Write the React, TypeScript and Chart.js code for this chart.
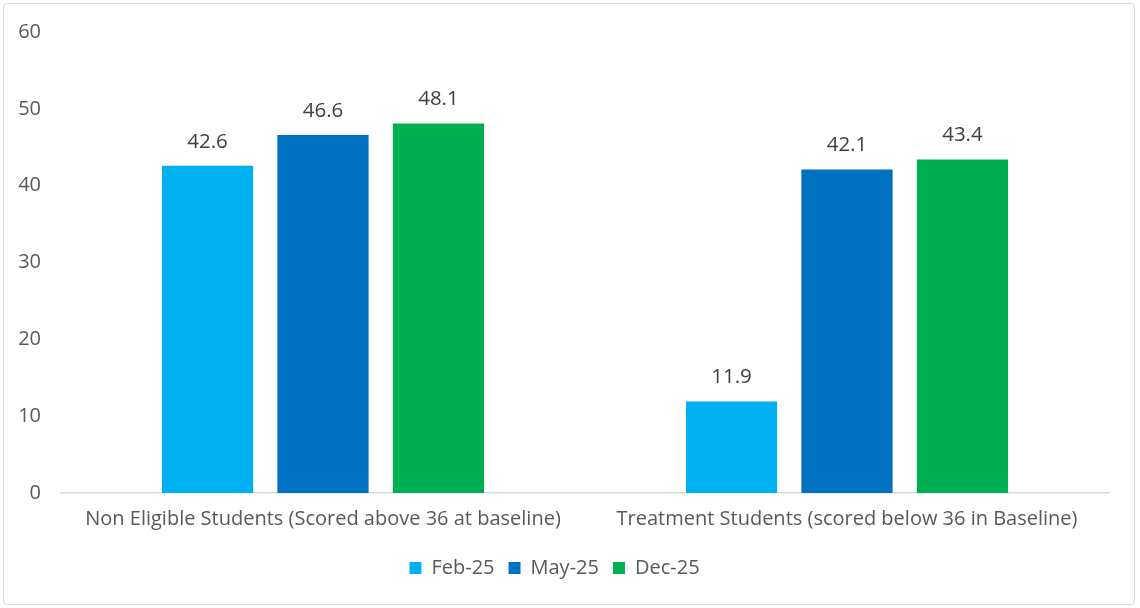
import React, { useEffect, useRef } from "react";
import { Chart, registerables } from "chart.js";

Chart.register(...registerables);

const categories = [
  "Non Eligible Students (Scored above 36 at baseline)",
  "Treatment Students (scored below 36 in Baseline)",
];
const seriesNames = ["Feb-25", "May-25", "Dec-25"];
const feb25 = [42.6, 11.9];
const may25 = [46.6, 42.1];
const dec25 = [48.1, 43.4];
const seriesColors = ["#00B0F0", "#0070C0", "#00B050"];
const yTicks = [0, 10, 20, 30, 40, 50, 60];

const FONT = "'Open Sans', 'Noto Sans', sans-serif";

const valueLabels = {
  id: "valueLabels",
  afterDatasetsDraw(chart: any) {
    const ctx = chart.ctx;
    ctx.save();
    ctx.font = `20.5px ${FONT}`;
    ctx.fillStyle = "#404040";
    ctx.textAlign = "center";
    ctx.textBaseline = "middle";
    chart.data.datasets.forEach((ds: any, i: number) => {
      const meta = chart.getDatasetMeta(i);
      meta.data.forEach((bar: any, j: number) => {
        const v = ds.data[j];
        ctx.fillText(v.toFixed(1), bar.x, bar.y - 24);
      });
    });
    ctx.restore();
  },
};

export default function App() {
  const ref = useRef<HTMLCanvasElement>(null);
  useEffect(() => {
    document.body.style.margin = "0";
    const chart = new Chart(ref.current!, {
      type: "bar",
      data: {
        labels: categories,
        datasets: [feb25, may25, dec25].map((d, i) => ({
          label: seriesNames[i],
          data: d,
          backgroundColor: seriesColors[i],
          categoryPercentage: 0.661,
          barPercentage: 0.79,
        })),
      },
      options: {
        animation: false,
        responsive: false,
        layout: { padding: { top: 24, left: 0, right: 31, bottom: 20 } },
        plugins: {
          legend: {
            position: "bottom",
            labels: {
              boxWidth: 12,
              boxHeight: 12,
              color: "#595959",
              font: { family: FONT, size: 20 },
              padding: 14,
            },
          },
          tooltip: { enabled: false },
        },
        scales: {
          x: {
            grid: { display: false, drawTicks: false },
            border: { display: true, color: "#d9d9d9", width: 1.5 },
            ticks: {
              color: "#595959",
              font: { family: FONT, size: 20 },
              padding: 14,
            },
            afterFit(scale: any) {
              scale.height = 51;
            },
          },
          y: {
            min: 0,
            max: 60,
            afterBuildTicks(scale: any) {
              scale.ticks = yTicks.map((v) => ({ value: v }));
            },
            grid: { display: false, drawTicks: false },
            border: { display: false },
            ticks: {
              color: "#595959",
              font: { family: FONT, size: 20 },
              padding: 20,
            },
            afterFit(scale: any) {
              scale.width = 61;
            },
          },
        },
      },
      plugins: [valueLabels],
    });
    return () => chart.destroy();
  }, []);
  return (
    <div style={{ position: "relative", width: 1140, height: 608, background: "#fff" }}>
      <canvas ref={ref} width={1140} height={608} style={{ position: "absolute", left: 0, top: 0 }} />
      <div
        style={{
          position: "absolute",
          left: 3,
          top: 3,
          width: 1130,
          height: 600,
          border: "1.5px solid #d9d9d9",
          borderRadius: 4,
          pointerEvents: "none",
        }}
      />
    </div>
  );
}
